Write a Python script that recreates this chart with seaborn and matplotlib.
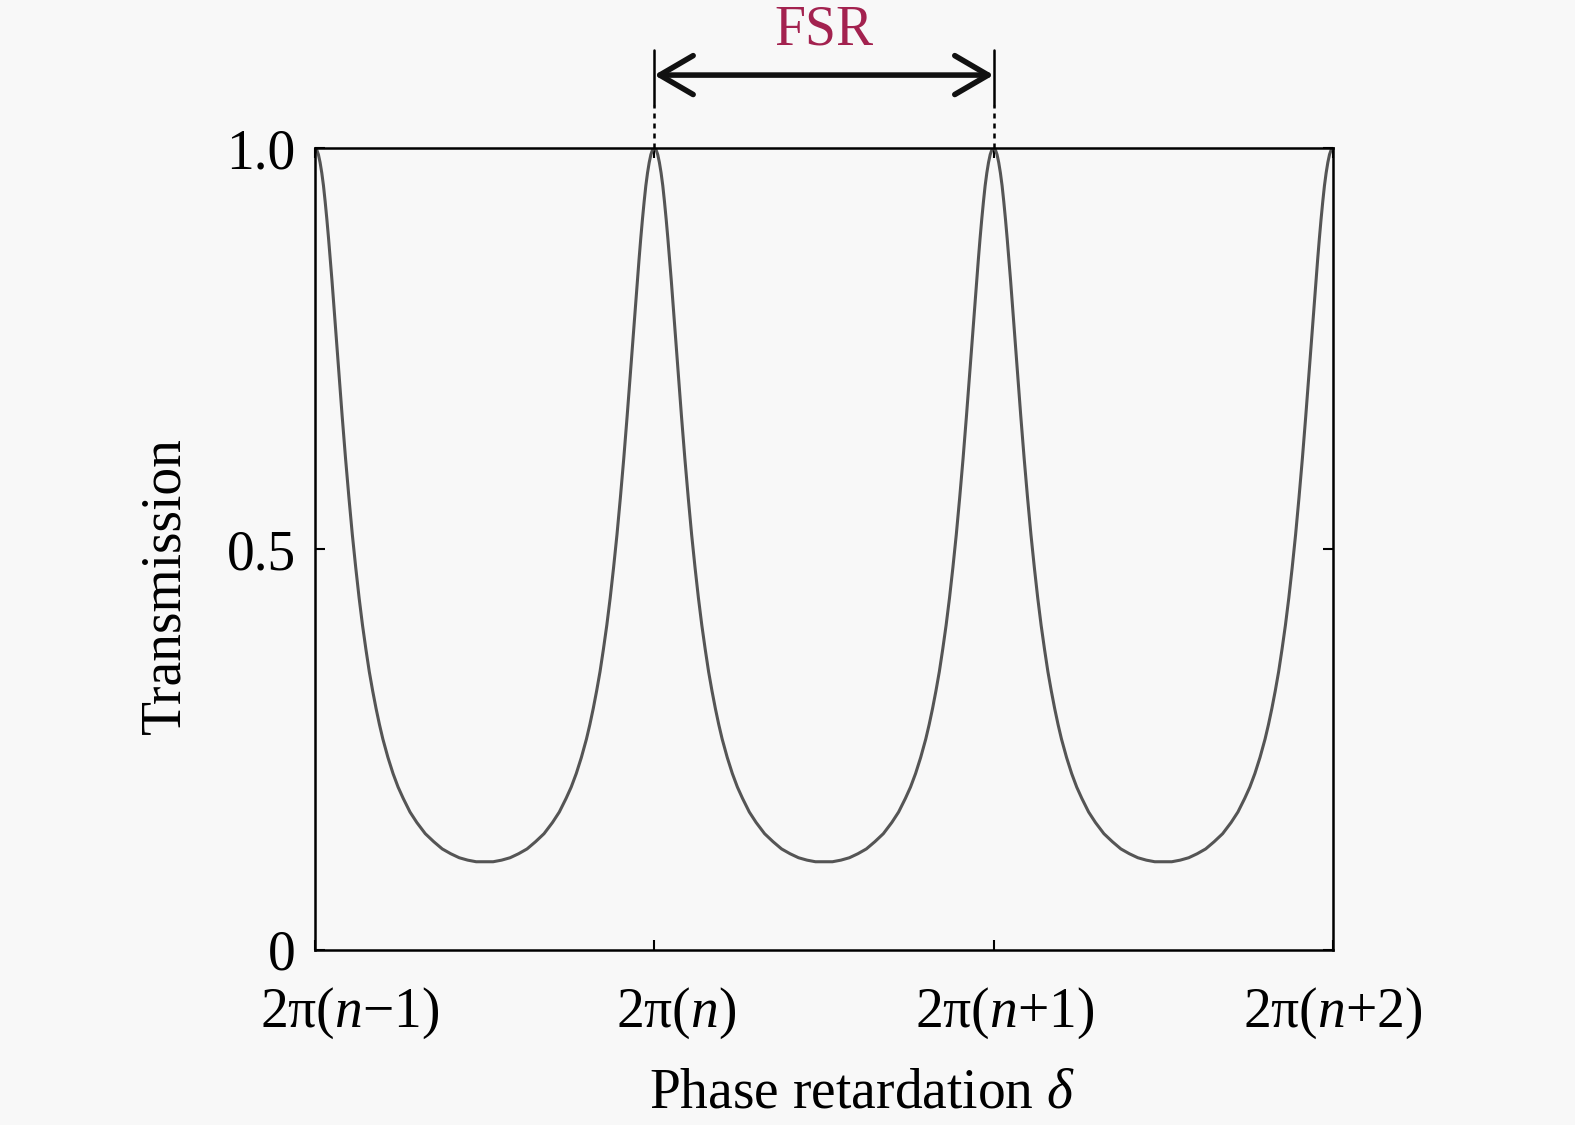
import pandas as pd
import seaborn as sns
import matplotlib.pyplot as plt
from matplotlib.transforms import ScaledTranslation

frac_half = [0.000, 0.005, 0.010, 0.015, 0.020, 0.025, 0.030, 0.035, 0.040, 0.045, 0.050,
             0.060, 0.070, 0.080, 0.090, 0.100, 0.110, 0.120, 0.130, 0.140, 0.150, 0.160,
             0.170, 0.180, 0.190, 0.200, 0.215, 0.230, 0.245, 0.260, 0.280, 0.300, 0.325,
             0.350, 0.375, 0.400, 0.425, 0.450, 0.475, 0.500]
trans_half = [1.000, 0.998, 0.992, 0.982, 0.969, 0.953, 0.933, 0.911, 0.887, 0.861, 0.835,
              0.779, 0.722, 0.666, 0.613, 0.564, 0.518, 0.477, 0.439, 0.405, 0.375, 0.347,
              0.323, 0.301, 0.281, 0.263, 0.240, 0.220, 0.203, 0.189, 0.172, 0.159, 0.145,
              0.135, 0.126, 0.120, 0.115, 0.112, 0.110, 0.110]
n_periods = 3

tick_pos = [0, 1, 2, 3]
tick_labels = [r'$\mathrm{2\pi(}n\mathrm{-1)}$', r'$\mathrm{2\pi(}n\mathrm{)}$',
               r'$\mathrm{2\pi(}n\mathrm{+1)}$', r'$\mathrm{2\pi(}n\mathrm{+2)}$']
ytick_pos = [0, 0.5, 1.0]
ytick_labels = ['0', '0.5', '1.0']

# one full period = falling half + mirrored rising half
frac_period = frac_half + [1 - f for f in frac_half[::-1][1:]]
trans_period = trans_half + trans_half[::-1][1:]
xs, ys = [], []
for k in range(n_periods):
    xs += [k + f for f in frac_period]
    ys += trans_period
df = pd.DataFrame({'phase': xs, 'T': ys})

sns.set_style('white')
plt.rcParams['font.family'] = ['Liberation Serif', 'DejaVu Serif']
plt.rcParams['mathtext.fontset'] = 'custom'
plt.rcParams['mathtext.rm'] = 'Liberation Serif'
plt.rcParams['mathtext.it'] = 'Liberation Serif:italic'

bg = '#f8f8f8'
fig = plt.figure(figsize=(15.75, 11.25), dpi=100, facecolor=bg)
ax = fig.add_axes([0.2, 0.1556, 0.6463, 0.7128])
ax.set_facecolor(bg)

sns.lineplot(data=df, x='phase', y='T', color='#555555', lw=2.2, ax=ax, sort=False)

ax.set_xlim(0, 3)
ax.set_ylim(0, 1)
ax.set_xticks(tick_pos)
ax.set_xticklabels(tick_labels, fontsize=40)
ax.set_yticks(ytick_pos)
ax.set_yticklabels(ytick_labels, fontsize=40)
ax.tick_params(direction='in', length=7, width=1.5, top=True, right=True,
               bottom=True, left=True, colors='black', labelcolor='black')
ax.tick_params(axis='x', pad=26)
ax.tick_params(axis='y', pad=14)
for s in ax.spines.values():
    s.set_visible(True)
    s.set_color('black')
    s.set_linewidth(1.8)

# the original labels sit a bit right of their ticks
shifts = [0.35, 0.22, 0.11, 0.0]
for lab, dx in zip(ax.get_xticklabels(), shifts):
    lab.set_transform(lab.get_transform() + ScaledTranslation(dx, 0, fig.dpi_scale_trans))

ax.set_xlabel(r'Phase retardation $\delta$', fontsize=40, color='black')
ax.set_ylabel('Transmission', fontsize=40, color='black')
ax.xaxis.set_label_coords(0.537, -0.147)
ax.yaxis.set_label_coords(-0.121, 0.455)

# FSR annotation above the plot
trans = ax.get_xaxis_transform()
for xp in [1, 2]:
    ax.plot([xp, xp], [1.054, 1.122], transform=trans, color='black', lw=1.8, clip_on=False)
    ax.plot([xp, xp], [1.0, 1.054], transform=trans, color='black', lw=1.8, ls=(0, (2, 2)), clip_on=False)
ax.annotate('', xy=(1, 1.091), xytext=(2, 1.091), xycoords=trans, textcoords=trans,
            arrowprops=dict(arrowstyle='<->,head_length=1.2,head_width=0.7', color='#111111',
                            lw=4, shrinkA=0, shrinkB=0, mutation_scale=20))
ax.text(1.5, 1.147, 'FSR', transform=trans, ha='center', va='center',
        fontsize=40, color='#a3224f')

fig.savefig('out.png', dpi=100, facecolor=bg)
